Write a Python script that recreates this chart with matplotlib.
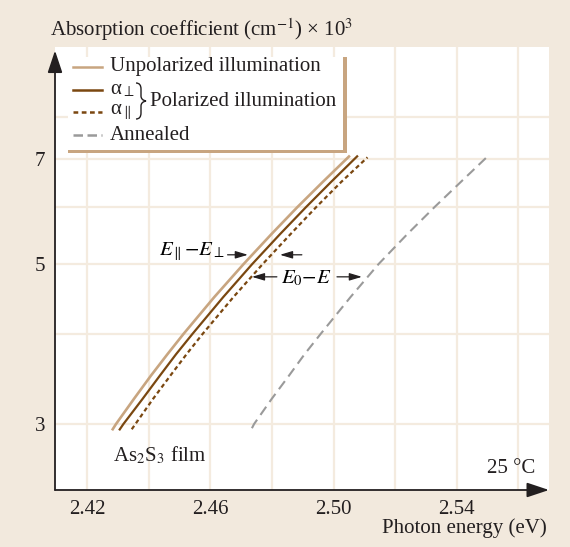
# As2S3 film absorption edge - polarized vs unpolarized illumination
import numpy as np
import matplotlib
matplotlib.use("Agg")
import matplotlib.pyplot as plt
from matplotlib.patches import Rectangle, PathPatch
from matplotlib.path import Path

plt.rcParams['font.family'] = ['Liberation Serif', 'DejaVu Serif']
plt.rcParams['mathtext.fontset'] = 'stix'
plt.rcParams['font.size'] = 15

# data (photon energy eV, absorption coefficient x10^3 cm^-1)
y_pts = [2.94, 3.0, 3.25, 3.5, 3.75, 4.0, 4.5, 5.0, 5.5, 6.0, 6.5, 7.07]
x_unpol = [2.4281, 2.4294, 2.4352, 2.4407, 2.4461, 2.4513, 2.4613, 2.4708,
           2.4798, 2.4883, 2.4965, 2.5053]
x_perp = [2.4304, 2.4318, 2.4380, 2.4436, 2.4489, 2.4542, 2.4642, 2.4736,
          2.4826, 2.4911, 2.4992, 2.5079]
y_par = [2.95, 3.0, 3.25, 3.5, 3.75, 4.0, 4.5, 5.0, 5.5, 6.0, 6.5, 7.03]
x_par = [2.4345, 2.4357, 2.4414, 2.4470, 2.4523, 2.4575, 2.4675, 2.4770,
         2.4860, 2.4944, 2.5025, 2.5110]
y_ann = [2.96, 3.0, 3.25, 3.5, 3.75, 4.0, 4.5, 5.0, 5.5, 6.0, 6.5, 7.04]
x_ann = [2.4735, 2.4742, 2.4799, 2.4855, 2.4906, 2.4958, 2.5055, 2.5146,
         2.5239, 2.5328, 2.5413, 2.5498]

xticks = [2.42, 2.46, 2.50, 2.54]
xtick_labels = ['2.42', '2.46', '2.50', '2.54']
xminor = [2.44, 2.48, 2.52, 2.56]
yticks = [3, 5, 7]
ytick_labels = ['3', '5', '7']
yminor = [4, 6, 8]

bg = '#f2e9dd'
grid_c = '#f4ebdf'
tan = '#c8a580'
brown = '#7a4710'
gray = '#9a9a9a'
ink = '#231f20'

# axes box in pixels
AX_L, AX_R, AX_T, AX_B = 55, 549, 47, 490

def fr(px, py):
    # pixel position -> axes fraction (for legend layout only)
    return ((px - AX_L) / (AX_R - AX_L), (AX_B - py) / (AX_B - AX_T))

fig = plt.figure(figsize=(5.7, 5.47), dpi=100, facecolor=bg)
ax = fig.add_axes([AX_L/570, 1-AX_B/547, (AX_R-AX_L)/570, (AX_B-AX_T)/547])
ax.set_facecolor('white')
ax.set_yscale('log')
ax.set_xlim(2.4096, 2.5699)
ax.set_ylim(2.43, 10.0)

ax.set_xticks(xticks, labels=xtick_labels)
ax.set_xticks(xminor, minor=True)
ax.set_yticks(yticks, labels=ytick_labels)
ax.set_yticks(yminor, labels=['', '', ''], minor=True)
ax.tick_params(which='both', length=0, colors=ink, labelsize=15)
ax.tick_params(axis='x', pad=7.5)
ax.tick_params(axis='y', pad=7)
ax.grid(which='both', color=grid_c, linewidth=1.6)
ax.set_axisbelow(True)
for s in ax.spines.values():
    s.set_visible(False)

# axes with arrow heads
ax.annotate('', xy=(1.0, 0), xytext=(0, 0), xycoords='axes fraction',
            arrowprops=dict(arrowstyle='-|>,head_length=0.9,head_width=0.3',
                            color=ink, lw=1.3, shrinkA=0, shrinkB=0), zorder=5)
ax.annotate('', xy=(0, 0.992), xytext=(0, 0), xycoords='axes fraction',
            arrowprops=dict(arrowstyle='-|>,head_length=0.9,head_width=0.3',
                            color=ink, lw=1.3, shrinkA=0, shrinkB=0), zorder=5)

# curves
ax.plot(x_unpol, y_pts, color=tan, lw=1.9, solid_capstyle='butt', solid_joinstyle='round')
ax.plot(x_perp, y_pts, color=brown, lw=1.6, solid_capstyle='butt', solid_joinstyle='round')
ax.plot(x_par, y_par, color=brown, lw=1.6, dashes=(1.9, 1.4))
ax.plot(x_ann, y_ann, color=gray, lw=1.5, dashes=(4.8, 2.8))

# annotations
arr = dict(arrowstyle='-|>,head_length=0.5,head_width=0.15', color=ink, lw=0.9,
           shrinkA=0, shrinkB=0)
ax.text(2.4648, 5.20, r'$E_{\parallel}{-}E_{\perp}$', ha='right', va='center', fontsize=15)
ax.annotate('', xy=(2.4722, 5.15), xytext=(2.4656, 5.15), arrowprops=arr)
ax.annotate('', xy=(2.4826, 5.15), xytext=(2.4897, 5.15), arrowprops=arr)
ax.text(2.4910, 4.78, r'$E_0{-}E$', ha='center', va='center', fontsize=15)
ax.annotate('', xy=(2.4735, 4.80), xytext=(2.4816, 4.80), arrowprops=arr)
ax.annotate('', xy=(2.5092, 4.80), xytext=(2.5011, 4.80), arrowprops=arr)

ax.text(2.4284, 2.717, r'As$_2$S$_3$ film', ha='left', va='center', color=ink)
ax.text(2.5653, 2.606, '25 °C', ha='right', va='center', color=ink)

# legend box (white box, tan border on right/bottom)
x0, y0 = fr(68, 153)
x1, y1 = fr(347, 57)
ax.add_patch(Rectangle((x0, y0), x1-x0, y1-y0, transform=ax.transAxes,
                       facecolor=tan, edgecolor='none', zorder=3))
x0, y0 = fr(68, 149.5)
x1, y1 = fr(343, 57)
ax.add_patch(Rectangle((x0, y0), x1-x0, y1-y0, transform=ax.transAxes,
                       facecolor='white', edgecolor='none', zorder=3))
leg_items = [
    ('Unpolarized illumination', tan, None, 67),
    ('α$_\\perp$', brown, None, 90),
    ('α$_\\parallel$', brown, (1.9, 1.4), 112),
    ('Annealed', gray, (3.8, 1.8), 135),
]
hx0, _ = fr(73, 0)
hx1, _ = fr(102, 0)
tx, _ = fr(110, 0)
for lab, c, d, py in leg_items:
    yy = fr(0, py)[1]
    kw = dict(dashes=d) if d else {}
    ax.plot([hx0, hx1], [yy, yy], transform=ax.transAxes, color=c,
            lw=1.8, zorder=4, **kw)
    ax.text(tx, yy, lab, transform=ax.transAxes, ha='left', va='center',
            color=ink, zorder=4)

# thin curly brace for the two polarized entries
verts = [fr(136, 83), fr(141, 83), fr(141, 89), fr(141, 96), fr(141, 100), fr(146, 101),
         fr(141, 102), fr(141, 106), fr(141, 113), fr(141, 119), fr(136, 119)]
codes = [Path.MOVETO, Path.CURVE3, Path.CURVE3, Path.LINETO, Path.CURVE3, Path.CURVE3,
         Path.CURVE3, Path.CURVE3, Path.LINETO, Path.CURVE3, Path.CURVE3]
ax.add_patch(PathPatch(Path(verts, codes), transform=ax.transAxes, facecolor='none',
                       edgecolor=ink, lw=1.0, zorder=4))
px_, py_ = fr(150, 101)
ax.text(px_, py_, 'Polarized illumination', transform=ax.transAxes,
        ha='left', va='center', color=ink, zorder=4)

fig.text(50/570, 1-30/547, r'Absorption coefficient (cm$^{-1}$) × 10$^3$',
         ha='left', va='center', color=ink)
fig.text(547/570, 1-528/547, 'Photon energy (eV)', ha='right', va='center', color=ink)

plt.savefig('out.png', dpi=100, facecolor=bg)
